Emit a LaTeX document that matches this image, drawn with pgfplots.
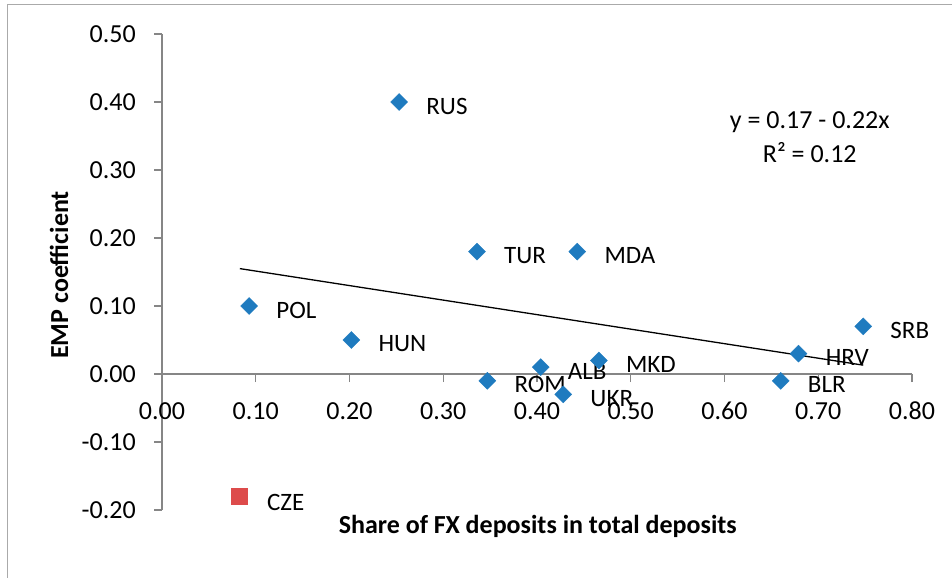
\documentclass[border=0pt]{standalone}
\usepackage{pgfplots}
\pgfplotsset{compat=1.18}
\usepackage{pgfplotstable}
\usepackage{fontspec}
\setmainfont{Carlito}
\definecolor{ptblue}{HTML}{1F7BBF}
\definecolor{ptred}{HTML}{DD4B4B}
\definecolor{axgray}{HTML}{868686}
\newcommand{\fs}{\fontsize{26bp}{30bp}\selectfont}
\newcommand{\fl}{\fontsize{25bp}{29bp}\selectfont}
\newcommand{\fb}{\fontsize{26bp}{30bp}\selectfont\bfseries}
\pgfplotstableread{
x y label
0.253 0.40 RUS
0.336 0.18 TUR
0.443 0.18 MDA
0.093 0.10 POL
0.202 0.05 HUN
0.347 -0.01 ROM
0.404 0.01 ALB
0.428 -0.03 UKR
0.466 0.02 MKD
0.679 0.03 HRV
0.660 -0.01 BLR
0.748 0.07 SRB
}\maindata
\pgfplotstableread{
x y label
0.082 -0.18 CZE
}\czedata
\begin{document}
\begin{tikzpicture}
\path[use as bounding box] (0,0) rectangle (952bp,578bp);
\draw[axgray!70, line width=1bp] (7bp,0) -- (7bp,573bp) -- (952bp,573bp);
\begin{axis}[
  at={(162bp,68bp)}, anchor=south west,
  scale only axis, width=750bp, height=476bp,
  xmin=0, xmax=0.8, ymin=-0.2, ymax=0.5,
  axis x line=middle, axis y line=left,
  hide obscured x ticks=false, hide obscured y ticks=false,
  axis line style={-, axgray, line width=1.2bp},
  xtick={0,0.1,...,0.8}, ytick={-0.2,-0.1,...,0.5},
  tick align=outside, major tick length=8bp,
  tick style={axgray, line width=1.2bp},
  /pgf/number format/assume math mode=true,
  /pgf/number format/.cd, fixed, fixed zerofill, precision=2, /pgfplots/.cd,
  tick label style={font=\fs, text=black},
  xticklabel style={anchor=north, inner sep=0pt, yshift=-20bp},
  yticklabel style={anchor=east, inner sep=0pt, xshift=-18bp},
  clip=false,
  xlabel={Share of FX deposits in total deposits},
  xlabel style={at={(axis description cs:0.501,-0.034)}, anchor=center, font=\fb},
  every node near coord/.append style={anchor=west, inner sep=0pt, xshift=27bp, yshift=-4bp, font=\fl, text=black},
]
\addplot[black, line width=1.3bp] coordinates {(0.083,0.155) (0.748,0.013)};
\addplot[only marks, mark=square*, mark size=6bp, mark options={rotate=45, fill=ptblue, draw=ptblue},
  nodes near coords, point meta=explicit symbolic] table[x=x, y=y, meta=label] {\maindata};
\addplot[only marks, mark=square*, mark size=8bp, mark options={fill=ptred, draw=ptred},
  nodes near coords, point meta=explicit symbolic,
  every node near coord/.append style={xshift=1bp, yshift=-2bp}] table[x=x, y=y, meta=label] {\czedata};
\node[font=\fs, anchor=center] at (axis cs:0.691,0.371) {y = 0.17 - 0.22x};
\node[font=\fs, anchor=center] at (axis cs:0.691,0.325) {R² = 0.12};
\end{axis}
\node[font=\fb, rotate=90, anchor=center] at (59bp,303bp) {EMP coefficient};
\end{tikzpicture}
\end{document}
